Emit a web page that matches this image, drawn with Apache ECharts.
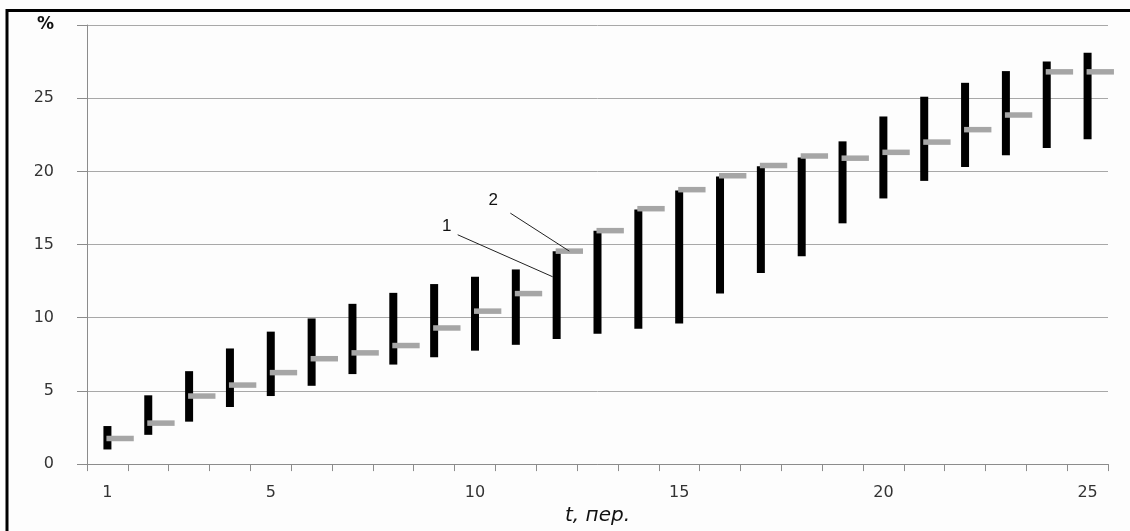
<!DOCTYPE html>
<html>
<head>
<meta charset="utf-8">
<script src="https://cdn.jsdelivr.net/npm/echarts@6/dist/echarts.min.js"></script>
<style>
  html, body { margin: 0; padding: 0; background: #ffffff; }
  #chart { width: 1130px; height: 531px; }
</style>
</head>
<body>
<div id="chart"></div>
<script>
// Periods t = 1..25
const periods = ['1','2','3','4','5','6','7','8','9','10','11','12','13','14','15','16','17','18','19','20','21','22','23','24','25'];
// Labelled periods on the horizontal axis
const xTickLabels = ['1','5','10','15','20','25'];

// Series 1: interval bounds, %
const lowValues  = [1.0, 2.0, 2.9, 3.9, 4.65, 5.35, 6.15, 6.8, 7.3, 7.75, 8.15, 8.55, 8.9, 9.25, 9.6, 11.65, 13.05, 14.2, 16.45, 18.15, 19.35, 20.3, 21.1, 21.6, 22.2];
const highValues = [2.6, 4.7, 6.35, 7.9, 9.05, 9.95, 10.95, 11.7, 12.3, 12.8, 13.3, 14.55, 15.95, 17.4, 18.7, 19.65, 20.35, 20.95, 22.05, 23.75, 25.1, 26.05, 26.85, 27.5, 28.1];
// Series 2: point values, %
const pointValues = [1.75, 2.8, 4.65, 5.4, 6.25, 7.2, 7.6, 8.1, 9.3, 10.45, 11.65, 14.55, 15.95, 17.45, 18.75, 19.7, 20.4, 21.05, 20.9, 21.3, 22.0, 22.85, 23.85, 26.8, 26.8];

// Vertical axis
const yMin = 0, yMax = 30, yStep = 5;
const yUnitLabel = '%';

// Callouts: series number, period index, value it points at
const calloutLabels  = ['1', '2'];
const calloutSeries  = ['range', 'point'];
const calloutPeriod  = [11, 11];
const calloutValue   = [12.8, 14.55];

const chart = echarts.init(document.getElementById('chart'));

const BAR_W = 8;
const DASH_H = 5.5;
const DASH_FRAC = 0.67;

const option = {
  backgroundColor: '#fdfdfd',
  animation: false,
  grid: { left: 87, right: 22, top: 25, bottom: 54 },
  xAxis: {
    type: 'category',
    data: periods,
    boundaryGap: true,
    name: 't, пер.',
    nameLocation: 'middle',
    nameGap: 30,
    nameTextStyle: { fontFamily: 'DejaVu Sans', fontStyle: 'italic', fontSize: 20, color: '#111' },
    axisLine: { show: true, lineStyle: { color: '#8c8c8c', width: 1 } },
    axisTick: { show: true, interval: 0, length: 7, lineStyle: { color: '#8c8c8c' } },
    axisLabel: {
      interval: (idx, val) => xTickLabels.indexOf(val) >= 0,
      margin: 21,
      fontFamily: 'DejaVu Sans',
      fontSize: 16,
      color: '#333'
    },
    splitLine: { show: false }
  },
  yAxis: {
    type: 'value',
    min: yMin,
    max: yMax,
    interval: yStep,
    axisLine: { show: true, lineStyle: { color: '#8c8c8c', width: 1 } },
    axisTick: { show: true, length: 10, lineStyle: { color: '#8c8c8c' } },
    axisLabel: {
      margin: 33,
      fontFamily: 'DejaVu Sans',
      fontSize: 16,
      color: '#333',
      formatter: v => v === yMax ? '{u|' + yUnitLabel + '}' : String(v),
      rich: { u: { fontFamily: 'DejaVu Sans', fontWeight: 'bold', fontSize: 17, color: '#111' } }
    },
    splitLine: { show: true, lineStyle: { color: '#a8a8a8', width: 1 } }
  },
  graphic: [
    // frame on the left and top edges
    { type: 'line', shape: { x1: 7, y1: 10.5, x2: 1130, y2: 10.5 }, style: { stroke: '#000', lineWidth: 3 }, z: 100 },
    { type: 'line', shape: { x1: 7, y1: 9, x2: 7, y2: 531 }, style: { stroke: '#000', lineWidth: 3 }, z: 100 }
  ],
  series: [
    {
      name: 'range',
      type: 'custom',
      data: lowValues.map((lo, i) => [i, lo, highValues[i]]),
      encode: { x: 0, y: [1, 2] },
      renderItem: (params, api) => {
        const top = api.coord([api.value(0), api.value(2)]);
        const bottom = api.coord([api.value(0), api.value(1)]);
        return {
          type: 'rect',
          shape: { x: top[0] - BAR_W / 2, y: top[1], width: BAR_W, height: bottom[1] - top[1] },
          style: { fill: '#000000' }
        };
      },
      z: 2
    },
    {
      name: 'point',
      type: 'custom',
      clip: false,
      data: pointValues.map((v, i) => [i, v]),
      encode: { x: 0, y: 1 },
      renderItem: (params, api) => {
        const c = api.coord([api.value(0), api.value(1)]);
        const band = api.size([1, 0])[0];
        return {
          type: 'rect',
          shape: { x: c[0] - 1, y: c[1] - DASH_H / 2, width: band * DASH_FRAC, height: DASH_H },
          style: { fill: '#a6a6a6' }
        };
      },
      z: 3
    },
    {
      name: 'callouts',
      type: 'custom',
      clip: false,
      silent: true,
      data: calloutLabels.map((t, i) => [calloutPeriod[i], calloutValue[i], i]),
      encode: { x: 0, y: 1 },
      renderItem: (params, api) => {
        const i = api.value(2);
        const c = api.coord([api.value(0), api.value(1)]);
        const band = api.size([1, 0])[0];
        let ax, lineD, textD;
        if (calloutSeries[i] === 'range') {
          ax = c[0] - BAR_W / 2;
          lineD = [-95, -42];
          textD = [-106, -50];
        } else {
          ax = c[0] - 1 + band * DASH_FRAC / 2;
          lineD = [-59, -38];
          textD = [-76, -51];
        }
        const ay = c[1];
        return {
          type: 'group',
          children: [
            {
              type: 'line',
              shape: { x1: ax, y1: ay, x2: ax + lineD[0], y2: ay + lineD[1] },
              style: { stroke: '#222', lineWidth: 1 }
            },
            {
              type: 'text',
              x: ax + textD[0],
              y: ay + textD[1],
              style: {
                text: calloutLabels[i],
                fontFamily: 'Liberation Sans',
                fontSize: 17,
                fill: '#111',
                align: 'center',
                verticalAlign: 'middle'
              }
            }
          ]
        };
      },
      z: 4
    }
  ]
};

chart.setOption(option);
</script>
</body>
</html>
